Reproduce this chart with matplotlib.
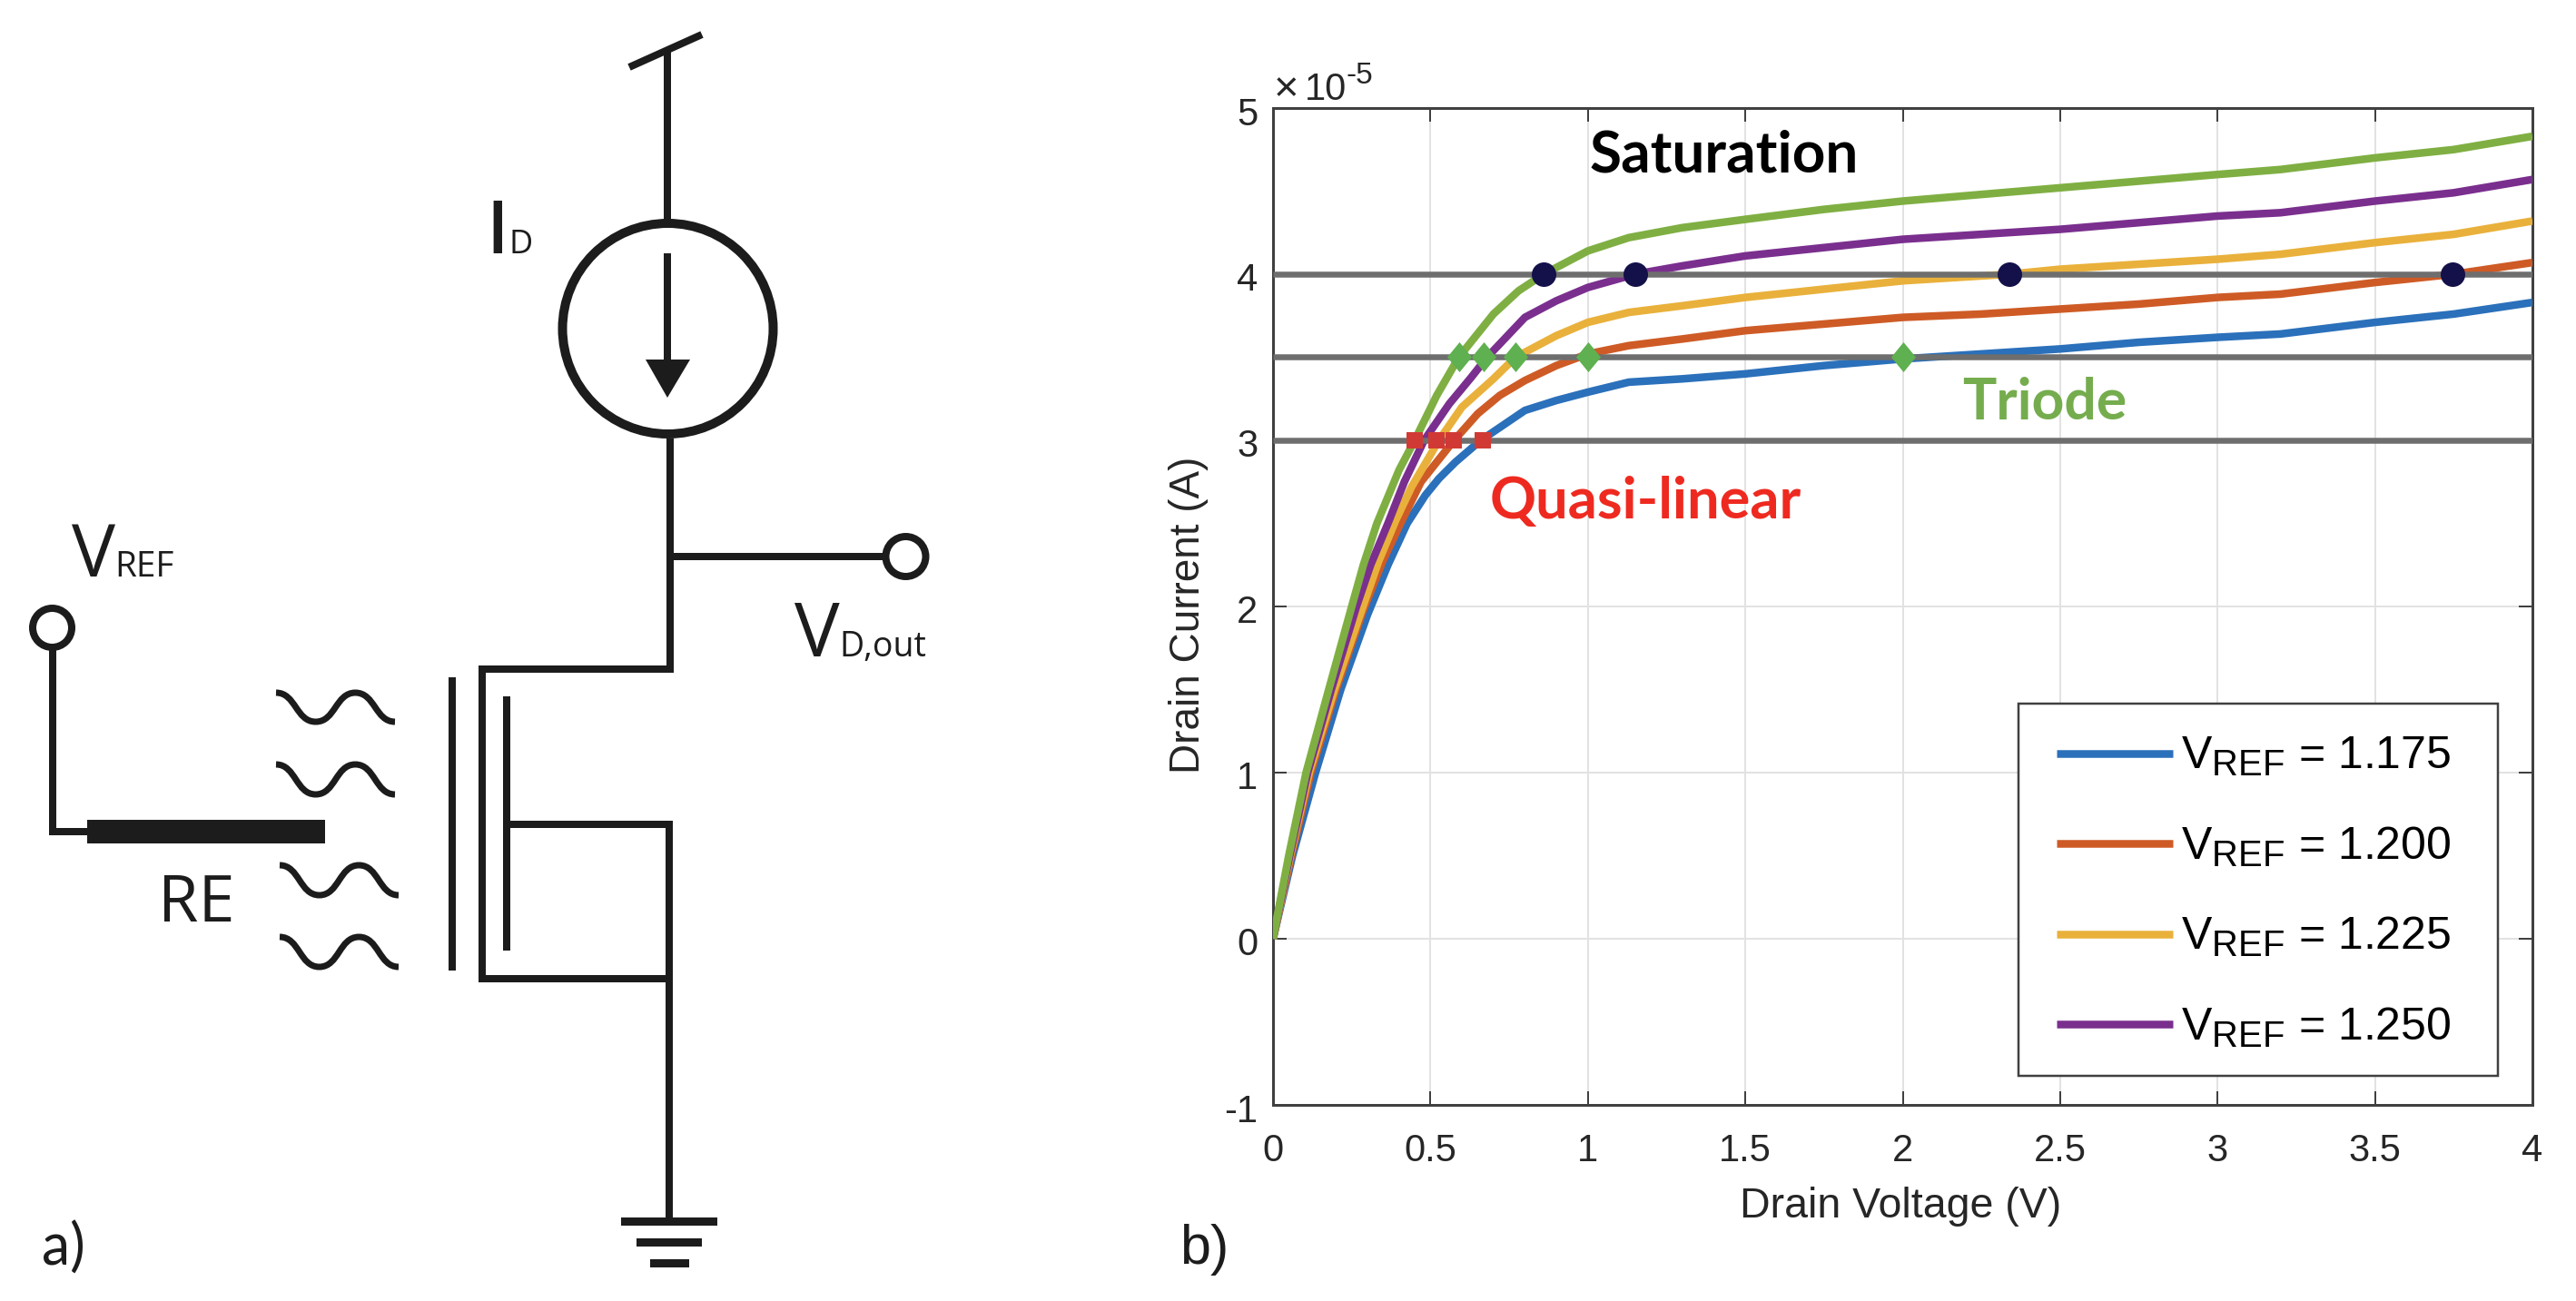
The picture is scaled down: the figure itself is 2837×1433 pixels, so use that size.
import numpy as np
import matplotlib
matplotlib.use("Agg")
import matplotlib.pyplot as plt
import matplotlib._mathtext as _mt
from matplotlib.patches import Circle, Rectangle, Polygon, PathPatch
from matplotlib.path import Path
from matplotlib.transforms import ScaledTranslation

W, H = 2837, 1433
plt.rcParams.update({
    "font.family": "Liberation Sans",
    "mathtext.fontset": "custom",
    "mathtext.rm": "Liberation Sans",
    "mathtext.it": "Liberation Sans",
    "mathtext.bf": "Liberation Sans:bold",
    "axes.unicode_minus": False,
})
# the legend subscripts are larger and set lower than the mathtext defaults
_mt.SHRINK_FACTOR = 0.8
_mt.FontConstantsBase.subdrop = 0.95

# ---- data (drain current in units of 1e-5 A) ----
x_1175 = [0, .062, .135, .215, .30, .365, .426, .484, .527, .58, .66, .73, .8, .9, 1, 1.13, 1.3, 1.5, 1.75, 2, 2.25, 2.5, 2.75, 3, 3.2, 3.5, 3.75, 4]
y_1175 = [0, .5, 1, 1.5, 1.95, 2.25, 2.5, 2.67, 2.77, 2.87, 3.0, 3.09, 3.18, 3.24, 3.29, 3.35, 3.37, 3.40, 3.45, 3.49, 3.52, 3.55, 3.59, 3.62, 3.64, 3.71, 3.76, 3.83]
x_1200 = [0, .058, .12, .20, .285, .35, .405, .47, .575, .65, .72, .8, .9, 1, 1.13, 1.3, 1.5, 1.75, 2, 2.25, 2.5, 2.75, 3, 3.2, 3.5, 3.75, 4]
y_1200 = [0, .5, 1, 1.5, 1.97, 2.28, 2.5, 2.75, 3, 3.16, 3.27, 3.36, 3.45, 3.52, 3.57, 3.61, 3.66, 3.70, 3.74, 3.76, 3.79, 3.82, 3.86, 3.88, 3.95, 4, 4.07]
x_1225 = [0, .055, .115, .195, .28, .335, .39, .44, .527, .6, .7, .77, .9, 1, 1.13, 1.3, 1.5, 1.75, 2, 2.34, 2.5, 2.75, 3, 3.2, 3.5, 3.75, 4]
y_1225 = [0, .5, 1, 1.5, 1.97, 2.27, 2.52, 2.72, 3, 3.2, 3.37, 3.5, 3.63, 3.71, 3.77, 3.81, 3.86, 3.91, 3.96, 4, 4.03, 4.06, 4.09, 4.12, 4.19, 4.24, 4.32]
x_1250 = [0, .053, .11, .185, .265, .31, .365, .417, .48, .56, .63, .68, .8, .9, 1, 1.15, 1.3, 1.5, 1.75, 2, 2.25, 2.5, 2.75, 3, 3.2, 3.5, 3.75, 4]
y_1250 = [0, .5, 1, 1.5, 2, 2.25, 2.5, 2.75, 3, 3.22, 3.38, 3.5, 3.74, 3.84, 3.92, 4.0, 4.05, 4.11, 4.16, 4.21, 4.24, 4.27, 4.31, 4.35, 4.37, 4.44, 4.49, 4.57]
x_top = [0, .05, .105, .177, .25, .287, .33, .40, .45, .52, .59, .7, .78, .86, 1, 1.13, 1.3, 1.5, 1.75, 2, 2.25, 2.5, 2.75, 3, 3.2, 3.5, 3.75, 4]
y_top = [0, .5, 1, 1.5, 2, 2.25, 2.5, 2.82, 3.0, 3.27, 3.5, 3.76, 3.9, 4.0, 4.14, 4.22, 4.28, 4.33, 4.39, 4.44, 4.48, 4.52, 4.56, 4.60, 4.63, 4.70, 4.75, 4.83]

levels = [3.0, 3.5, 4.0]
sat_x = [.86, 1.15, 2.34, 3.745]
tri_x = [.59, .67, .77, 1.0, 2.0]
qua_x = [.45, .52, .575, .665]
x_ticks = [0, .5, 1, 1.5, 2, 2.5, 3, 3.5, 4]
x_tick_labels = ["0", "0.5", "1", "1.5", "2", "2.5", "3", "3.5", "4"]
y_ticks = [-1, 0, 1, 2, 3, 4, 5]
y_tick_labels = ["-1", "0", "1", "2", "3", "4", "5"]
legend_labels = [r"V$_{\mathrm{REF}}$ = 1.175", r"V$_{\mathrm{REF}}$ = 1.200",
                 r"V$_{\mathrm{REF}}$ = 1.225", r"V$_{\mathrm{REF}}$ = 1.250"]

PX = 0.72  # points per pixel at dpi=100
DARK = "#1c1c1c"
AX = "#404040"
fig = plt.figure(figsize=(W / 100, H / 100), dpi=100, facecolor="white")

# ---- panel b ----
ax = fig.add_axes([1402 / W, 1 - 1217 / H, 1387 / W, 1098 / H])
E = 1e-5
curves = [(x_1175, y_1175, "#2B70BA"), (x_1200, y_1200, "#CE5B26"),
          (x_1225, y_1225, "#E9B13B"), (x_1250, y_1250, "#7A2F8E"), (x_top, y_top, "#7FAF42")]
handles = []
for xs, ys, c in curves:
    l, = ax.plot(xs, np.array(ys) * E, color=c, lw=8.5 * PX, solid_joinstyle="round", solid_capstyle="butt", zorder=3)
    handles.append(l)
for lv in levels:
    ax.plot([0, 4], [lv * E, lv * E], color="#6E6E6E", lw=6.5 * PX, solid_capstyle="butt", zorder=4)
ax.plot(sat_x, [levels[2] * E] * len(sat_x), ls="none", marker="o", ms=27 * PX, color="#14104A", mew=0, zorder=6)
diamond = [(0, 1), (.82, 0), (0, -1), (-.82, 0), (0, 1)]
ax.plot(tri_x, [levels[1] * E] * len(tri_x), ls="none", marker=diamond, ms=33 * PX, color="#5FB050", mew=0, zorder=6)
ax.plot(qua_x, [levels[0] * E] * len(qua_x), ls="none", marker="s", ms=17.5 * PX, color="#D13A34", mew=0, zorder=6)

ax.set_xlim(0, 4)
ax.set_ylim(-1 * E, 5 * E)
ax.set_xticks(x_ticks)
ax.set_xticklabels(x_tick_labels)
ax.set_yticks(np.array(y_ticks) * E)
ax.set_yticklabels(y_tick_labels)
ax.tick_params(direction="in", top=True, right=True, length=15 * PX, width=2 * PX, color=AX,
               labelsize=30, labelcolor="#262626", pad=12)
ax.tick_params(axis="x", pad=22)
ax.grid(True, color="#E2E2E2", lw=2 * PX)
ax.set_axisbelow(True)
for s in ax.spines.values():
    s.set_color(AX)
    s.set_linewidth(3 * PX)
ax.set_xlabel("Drain Voltage (V)", fontsize=33.5, color="#262626")
ax.set_ylabel("Drain Current (A)", fontsize=33, color="#262626")
ax.xaxis.set_label_coords((2093 - 1402) / 1387, -(1307 - 1217) / 1098)
ax.yaxis.set_label_coords((1331 - 1402) / 1387, (1217 - 677) / 1098)
for t in ax.get_yticklabels():
    t.set_transform(t.get_transform() + ScaledTranslation(0, -3 / 100, fig.dpi_scale_trans))

# legend frame placed separately so its size does not depend on the text padding
ax.add_patch(Rectangle(((2223 - 1402) / 1387, (1217 - 1185) / 1098), 528 / 1387, 410 / 1098,
                       transform=ax.transAxes, fc="white", ec=AX, lw=2.5 * PX, zorder=7))
leg = ax.legend(handles[:4], legend_labels, loc="lower left",
                bbox_to_anchor=((2265 - 1402) / 1387, (1217 - 1156) / 1098),
                borderaxespad=0, fontsize=36, frameon=False,
                handlelength=2.55, handletextpad=0.2, borderpad=0, labelspacing=1.03)
leg.set_zorder(8)

# ---- overlay in reference pixels: schematic (panel a) and annotations ----
ov = fig.add_axes([0, 0, 1, 1], facecolor="none")
ov.set_xlim(0, W)
ov.set_ylim(H, 0)
ov.axis("off")


def wire(xs, ys, w=8):
    ov.plot(xs, ys, color=DARK, lw=w * PX, solid_capstyle="butt", solid_joinstyle="miter")


def label(x, y, s, size, fam="Open Sans", **kw):
    ov.text(x, y, s, fontsize=size, family=fam, color=kw.pop("color", DARK), ha=kw.pop("ha", "left"),
            va="baseline", **kw)


def wave(x0, ytop, ybot, w=131):
    q = w / 3
    v = [(x0, ytop), (x0 + q * .5, ytop), (x0 + q * .5, ybot), (x0 + q, ybot),
         (x0 + q * 1.5, ybot), (x0 + q * 1.5, ytop), (x0 + 2 * q, ytop),
         (x0 + q * 2.5, ytop), (x0 + q * 2.5, ybot), (x0 + 3 * q, ybot)]
    codes = [Path.MOVETO] + [Path.CURVE4] * 9
    ov.add_patch(PathPatch(Path(v, codes), fill=False, ec=DARK, lw=7 * PX, capstyle="butt"))


wire([735, 735], [56, 243])
wire([693, 773], [74, 38], 8)
ov.add_patch(Circle((735.5, 362), 116, fill=False, ec=DARK, lw=10 * PX))
wire([735, 735], [279, 400], 8)
ov.add_patch(Polygon([(711, 396), (760, 396), (735, 438)], closed=True, fc=DARK, ec="none"))
wire([738, 738], [483, 741])
wire([738, 975], [613, 613], 8)
ov.add_patch(Circle((997.5, 613), 22, fc="white", ec=DARK, lw=8 * PX))
wire([531, 738], [737, 737])
wire([531, 531], [733, 1082])
wire([531, 737], [1078, 1078])
wire([498, 498], [746, 1069])
wire([558, 558], [767, 1047])
wire([558, 741], [908, 908])
wire([737, 737], [904, 1341])
for x0, x1, y0, y1 in [(684, 790, 1341, 1350), (701, 773, 1364, 1373), (716, 759, 1387, 1396)]:
    ov.add_patch(Rectangle((x0, y0), x1 - x0, y1 - y0, fc=DARK, ec="none"))
wire([57.5, 57.5], [714, 916])
wire([53.5, 100], [916, 916])
ov.add_patch(Rectangle((96, 903), 262, 26, fc=DARK, ec="none"))
ov.add_patch(Circle((57.5, 691.5), 21.5, fc="white", ec=DARK, lw=8 * PX))
for x0, yt, yb in [(304, 763, 795), (304, 842, 875), (308, 953, 986), (308, 1032, 1065)]:
    wave(x0, yt, yb)

label(79, 635, "V", 58)
label(126, 635, "REF", 28)
label(174, 1015, "RE", 52)
label(535, 279, "I", 58, fontweight="semibold")
label(561, 279, "D", 26)
label(875, 723, "V", 60)
label(924, 723, "D,out", 27)
label(46, 1394, "a)", 45, fam="Lato")
label(1299, 1392, "b)", 44, fam="Liberation Sans")

label(1899, 189, "Saturation", 46, fam="Lato", fontweight="bold", color="black", ha="center")
label(1812, 571, "Quasi-linear", 45.5, fam="Lato", fontweight="bold", color="#EE2A20", ha="center")
label(2252, 462, "Triode", 45, fam="Lato", fontweight="bold", color="#75AD4E", ha="center")

# axis multiplier drawn the way the reference sets it
ov.text(1403, 111, "\u00d7", fontsize=34, family="Liberation Sans", color="#262626", va="baseline")
ov.text(1437, 110, "10", fontsize=30, family="Liberation Sans", color="#262626", va="baseline")
ov.text(1483, 92, "-5", fontsize=24, family="Liberation Sans", color="#262626", va="baseline")

fig.savefig("out.png", dpi=100, facecolor="white")
